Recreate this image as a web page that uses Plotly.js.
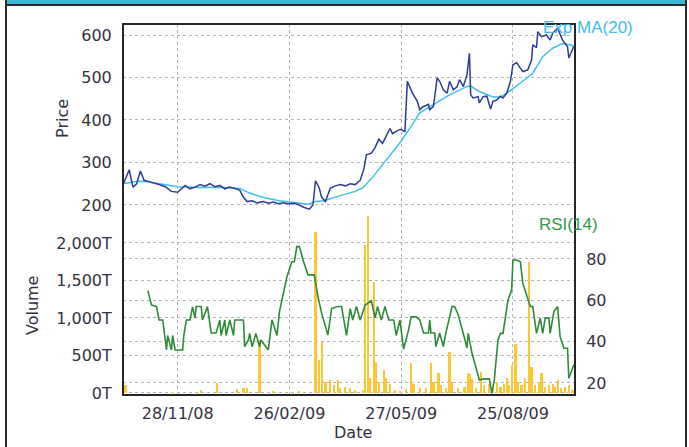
<!DOCTYPE html>
<html>
<head>
<meta charset="utf-8">
<script src="https://cdn.plot.ly/plotly-3.0.1.min.js"></script>
<style>
html,body{margin:0;padding:0;background:#fff;}
#chart{position:absolute;left:0;top:0;width:689px;height:447px;}
.fr{position:absolute;background:#2b2b2b;z-index:10;pointer-events:none;}
#band{position:absolute;left:6px;top:0;width:680px;height:4px;background:#3db8da;z-index:10;}
</style>
</head>
<body>
<div id="chart"></div>
<div id="band"></div>
<div class="fr" style="left:6px;top:4px;width:681px;height:2px;"></div>
<div class="fr" style="left:5px;top:0;width:2px;height:447px;"></div>
<div class="fr" style="left:685px;top:0;width:2px;height:447px;"></div>
<script>
// Price series
const priceDates = ['2008-10-15','2008-10-20','2008-10-23','2008-10-26','2008-10-29','2008-11-01','2008-11-05','2008-11-09','2008-11-13','2008-11-18','2008-11-23','2008-11-28','2008-12-02','2008-12-04','2008-12-08','2008-12-12','2008-12-16','2008-12-20','2008-12-24','2008-12-28','2009-01-01','2009-01-05','2009-01-09','2009-01-13','2009-01-17','2009-01-20','2009-01-23','2009-01-27','2009-01-31','2009-02-05','2009-02-09','2009-02-13','2009-02-17','2009-02-21','2009-02-25','2009-03-02','2009-03-06','2009-03-10','2009-03-14','2009-03-17','2009-03-19','2009-03-22','2009-03-24','2009-03-27','2009-03-31','2009-04-04','2009-04-08','2009-04-12','2009-04-16','2009-04-20','2009-04-24','2009-04-27','2009-04-29','2009-05-03','2009-05-06','2009-05-09','2009-05-12','2009-05-15','2009-05-18','2009-05-20','2009-05-24','2009-05-27','2009-05-30','2009-06-01','2009-06-04','2009-06-05','2009-06-09','2009-06-11','2009-06-13','2009-06-18','2009-06-19','2009-06-22','2009-06-25','2009-06-27','2009-06-30','2009-07-03','2009-07-05','2009-07-08','2009-07-11','2009-07-13','2009-07-16','2009-07-19','2009-07-21','2009-07-22','2009-07-24','2009-07-28','2009-07-29','2009-08-01','2009-08-04','2009-08-07','2009-08-09','2009-08-12','2009-08-15','2009-08-17','2009-08-20','2009-08-23','2009-08-25','2009-08-28','2009-08-31','2009-09-02','2009-09-06','2009-09-09','2009-09-10','2009-09-13','2009-09-14','2009-09-17','2009-09-21','2009-09-24','2009-09-26','2009-09-30','2009-10-04','2009-10-08','2009-10-09','2009-10-12','2009-10-13'];
const priceValues = [247,283,242,250,280,258,255,252,248,243,232,230,240,246,238,242,248,244,250,243,246,238,242,238,235,218,208,210,205,208,204,207,203,205,203,204,200,194,190,200,257,240,218,208,240,245,248,245,250,248,258,285,318,322,335,355,345,362,380,368,375,378,372,491,470,464,444,424,430,437,424,432,499,491,471,463,491,471,478,495,479,506,557,459,452,455,440,455,456,426,444,447,456,452,463,491,530,535,522,514,518,541,577,570,608,596,600,588,604,616,588,572,546,570,573];

// Exponential moving average (20)
const emaDates = ['2008-10-15','2008-10-25','2008-11-01','2008-11-13','2008-11-28','2008-12-16','2009-01-01','2009-01-17','2009-01-25','2009-02-06','2009-02-18','2009-03-02','2009-03-13','2009-03-19','2009-03-26','2009-04-08','2009-04-20','2009-04-26','2009-05-04','2009-05-12','2009-05-20','2009-05-27','2009-06-04','2009-06-11','2009-06-22','2009-07-05','2009-07-19','2009-07-22','2009-07-29','2009-08-09','2009-08-15','2009-08-20','2009-08-31','2009-09-10','2009-09-18','2009-09-26','2009-10-04','2009-10-10','2009-10-13'];
const emaValues = [250,255,256,250,243,241,242,239,228,217,210,206,202,208,210,222,232,240,265,295,325,350,385,417,436,459,479,480,467,454,454,463,487,510,549,569,580,577,573];

// Volume (thousands)
const volDates = ['2008-10-17','2008-11-24','2008-12-17','2008-12-30','2009-01-15','2009-01-20','2009-01-23','2009-02-02','2009-02-13','2009-03-06','2009-03-19','2009-03-22','2009-03-24','2009-03-27','2009-03-31','2009-04-03','2009-04-06','2009-04-08','2009-04-12','2009-04-16','2009-04-20','2009-04-26','2009-04-28','2009-04-30','2009-05-02','2009-05-05','2009-05-07','2009-05-09','2009-05-13','2009-05-15','2009-05-18','2009-05-22','2009-05-26','2009-05-31','2009-06-04','2009-06-06','2009-06-11','2009-06-16','2009-06-20','2009-06-22','2009-06-26','2009-06-28','2009-07-02','2009-07-05','2009-07-07','2009-07-12','2009-07-17','2009-07-20','2009-07-21','2009-07-23','2009-07-26','2009-07-30','2009-08-02','2009-08-06','2009-08-09','2009-08-12','2009-08-15','2009-08-18','2009-08-20','2009-08-22','2009-08-24','2009-08-27','2009-08-29','2009-09-01','2009-09-04','2009-09-07','2009-09-09','2009-09-12','2009-09-15','2009-09-17','2009-09-20','2009-09-23','2009-09-26','2009-09-28','2009-09-30','2009-10-03','2009-10-06','2009-10-09','2009-10-12'];
const volValues = [105,10,40,130,50,60,70,705,20,20,2140,440,685,150,170,100,170,60,80,60,40,40,1970,2360,200,1480,410,150,300,200,120,40,30,50,400,120,60,60,400,150,270,100,60,550,150,60,80,270,250,180,60,280,100,120,60,150,80,120,200,100,370,650,150,100,200,1750,350,100,150,260,80,100,120,80,170,60,80,100,40];

// RSI(14)
const rsiDates = ['2008-11-04','2008-11-07','2008-11-11','2008-11-13','2008-11-16','2008-11-19','2008-11-20','2008-11-23','2008-11-24','2008-11-26','2008-12-02','2008-12-03','2008-12-05','2008-12-08','2008-12-10','2008-12-12','2008-12-13','2008-12-17','2008-12-18','2008-12-22','2008-12-23','2008-12-25','2008-12-29','2009-01-01','2009-01-02','2009-01-05','2009-01-06','2009-01-09','2009-01-12','2009-01-13','2009-01-20','2009-01-21','2009-01-24','2009-01-25','2009-01-27','2009-01-30','2009-02-02','2009-02-03','2009-02-09','2009-02-12','2009-02-16','2009-02-18','2009-02-24','2009-02-28','2009-03-02','2009-03-04','2009-03-06','2009-03-09','2009-03-13','2009-03-18','2009-03-21','2009-03-24','2009-03-29','2009-04-01','2009-04-06','2009-04-09','2009-04-13','2009-04-16','2009-04-18','2009-04-21','2009-04-24','2009-04-28','2009-05-03','2009-05-06','2009-05-08','2009-05-11','2009-05-14','2009-05-17','2009-05-21','2009-05-23','2009-05-26','2009-05-29','2009-06-02','2009-06-04','2009-06-08','2009-06-11','2009-06-14','2009-06-18','2009-06-19','2009-06-20','2009-06-23','2009-06-24','2009-06-27','2009-06-30','2009-07-02','2009-07-07','2009-07-09','2009-07-12','2009-07-16','2009-07-19','2009-07-20','2009-07-23','2009-07-26','2009-07-29','2009-08-01','2009-08-06','2009-08-08','2009-08-10','2009-08-13','2009-08-15','2009-08-17','2009-08-19','2009-08-21','2009-08-24','2009-08-25','2009-08-28','2009-08-31','2009-09-02','2009-09-05','2009-09-08','2009-09-10','2009-09-13','2009-09-16','2009-09-18','2009-09-20','2009-09-23','2009-09-24','2009-09-27','2009-09-30','2009-10-02','2009-10-05','2009-10-08','2009-10-09','2009-10-13','2009-10-14'];
const rsiValues = [64.7,57.7,57,50.5,50.5,36,43,36,43,36,36,43,50.5,50.5,56.8,51.4,57,57,50.5,57,53,44.2,44.2,50.5,43,50.5,43,50.5,43,50.5,50.5,37.6,40.8,44,37.5,44,37.5,40.8,36,50.5,43,54.5,71.4,78.7,78.7,86,86,79.5,72.3,72.3,61.8,53.7,43.2,56,57,57,43,56,50.5,57,50.5,57.7,59.8,51.5,57,50.5,57,50.5,50.5,43,50.5,36.4,45.7,52,52,50.5,44.2,44.2,50.5,44.2,44.2,37.6,44.2,37.6,44.2,57,57,53,44,37,44,34.5,28,21.5,22,22,15,21.5,40.8,44,44,51.3,60,65,79.5,79.5,78.7,68.2,62.6,57,57,44,51.4,44,51.4,51.4,44,54.5,57,42.4,36.8,36.8,22.3,28.7,29];

// Axis ticks
const dateTickVals = ['2008-11-28','2009-02-26','2009-05-27','2009-08-25'];
const dateTickText = ['28/11/08','26/02/09','27/05/09','25/08/09'];
const priceTicks = [200,300,400,500,600];
const volTickVals = [0,500,1000,1500,2000];
const volTickText = ['0T','500T','1,000T','1,500T','2,000T'];
const rsiTicks = [20,40,60,80];

const tickFont = {family:'DejaVu Sans, Verdana, sans-serif', size:16, color:'#333340'};
const gridStyle = {showgrid:true, gridcolor:'#b4b4b4', gridwidth:1, griddash:'3px,3px', zeroline:false, showline:false};

const traces = [
  {type:'bar', x:volDates, y:volValues, xaxis:'x', yaxis:'y2', marker:{color:'#fcc735', line:{width:0}}, width:1.8*86400000, showlegend:false},
  {type:'scatter', mode:'lines', x:rsiDates, y:rsiValues, xaxis:'x', yaxis:'y3', line:{color:'#2f8a3a', width:1.6}, showlegend:false},
  {type:'scatter', mode:'lines', x:emaDates, y:emaValues, xaxis:'x', yaxis:'y', line:{color:'#3ec0ee', width:1.5}, showlegend:false},
  {type:'scatter', mode:'lines', x:priceDates, y:priceValues, xaxis:'x', yaxis:'y', line:{color:'#2b3d96', width:1.5}, showlegend:false}
];

const splitY = 0.4933;
const layout = {
  width:689, height:447,
  margin:{l:123, r:114, t:24, b:52},
  paper_bgcolor:'#ffffff', plot_bgcolor:'#ffffff',
  showlegend:false,
  bargap:0,
  xaxis: Object.assign({type:'date', range:['2008-10-15','2009-10-14'], tickvals:dateTickVals, ticktext:dateTickText, tickfont:tickFont, anchor:'y2', ticks:'outside', ticklen:4, tickcolor:'rgba(0,0,0,0)'}, gridStyle),
  yaxis: Object.assign({domain:[splitY,1], range:[183.5,625.9], tickvals:priceTicks, tickfont:tickFont, anchor:'x', ticks:'outside', ticklen:7, tickcolor:'rgba(0,0,0,0)'}, gridStyle),
  yaxis2: Object.assign({domain:[0,splitY], range:[-26.7,2413], tickvals:volTickVals, ticktext:volTickText, tickfont:tickFont, anchor:'x', ticks:'outside', ticklen:7, tickcolor:'rgba(0,0,0,0)'}, gridStyle),
  yaxis3: Object.assign({overlaying:'y2', side:'right', range:[14.19,102.74], tickvals:rsiTicks, tickfont:tickFont, anchor:'x', ticks:'outside', ticklen:7, tickcolor:'rgba(0,0,0,0)'}, gridStyle),
  shapes:[
    {type:'rect', xref:'paper', yref:'paper', x0:0, x1:1, y0:0, y1:1, line:{color:'#262626', width:2}, fillcolor:'rgba(0,0,0,0)'}
  ],
  annotations:[
    {text:'Price', xref:'paper', yref:'paper', x:-0.135, y:0.7466, xanchor:'center', yanchor:'middle', textangle:-90, showarrow:false, font:{family:'DejaVu Sans, Verdana, sans-serif', size:16, color:'#333340'}},
    {text:'Volume', xref:'paper', yref:'paper', x:-0.199, y:0.2426, xanchor:'center', yanchor:'middle', textangle:-90, showarrow:false, font:{family:'DejaVu Sans, Verdana, sans-serif', size:16, color:'#333340'}},
    {text:'Date', xref:'paper', yref:'paper', x:0.5088, y:-0.1024, xanchor:'center', yanchor:'middle', showarrow:false, font:{family:'DejaVu Sans, Verdana, sans-serif', size:16, color:'#333340'}},
    {text:'Exp MA(20)', xref:'paper', yref:'paper', x:0.9248, y:0.9919, xanchor:'left', yanchor:'middle', showarrow:false, font:{family:'Liberation Sans, Arial, sans-serif', size:17, color:'#3ec0ee'}},
    {text:'RSI(14)', xref:'paper', yref:'paper', x:0.9159, y:0.4609, xanchor:'left', yanchor:'middle', showarrow:false, font:{family:'Liberation Sans, Arial, sans-serif', size:17, color:'#2f9a4a'}}
  ]
};

Plotly.newPlot('chart', traces, layout, {staticPlot:true, displayModeBar:false});
</script>
</body>
</html>
